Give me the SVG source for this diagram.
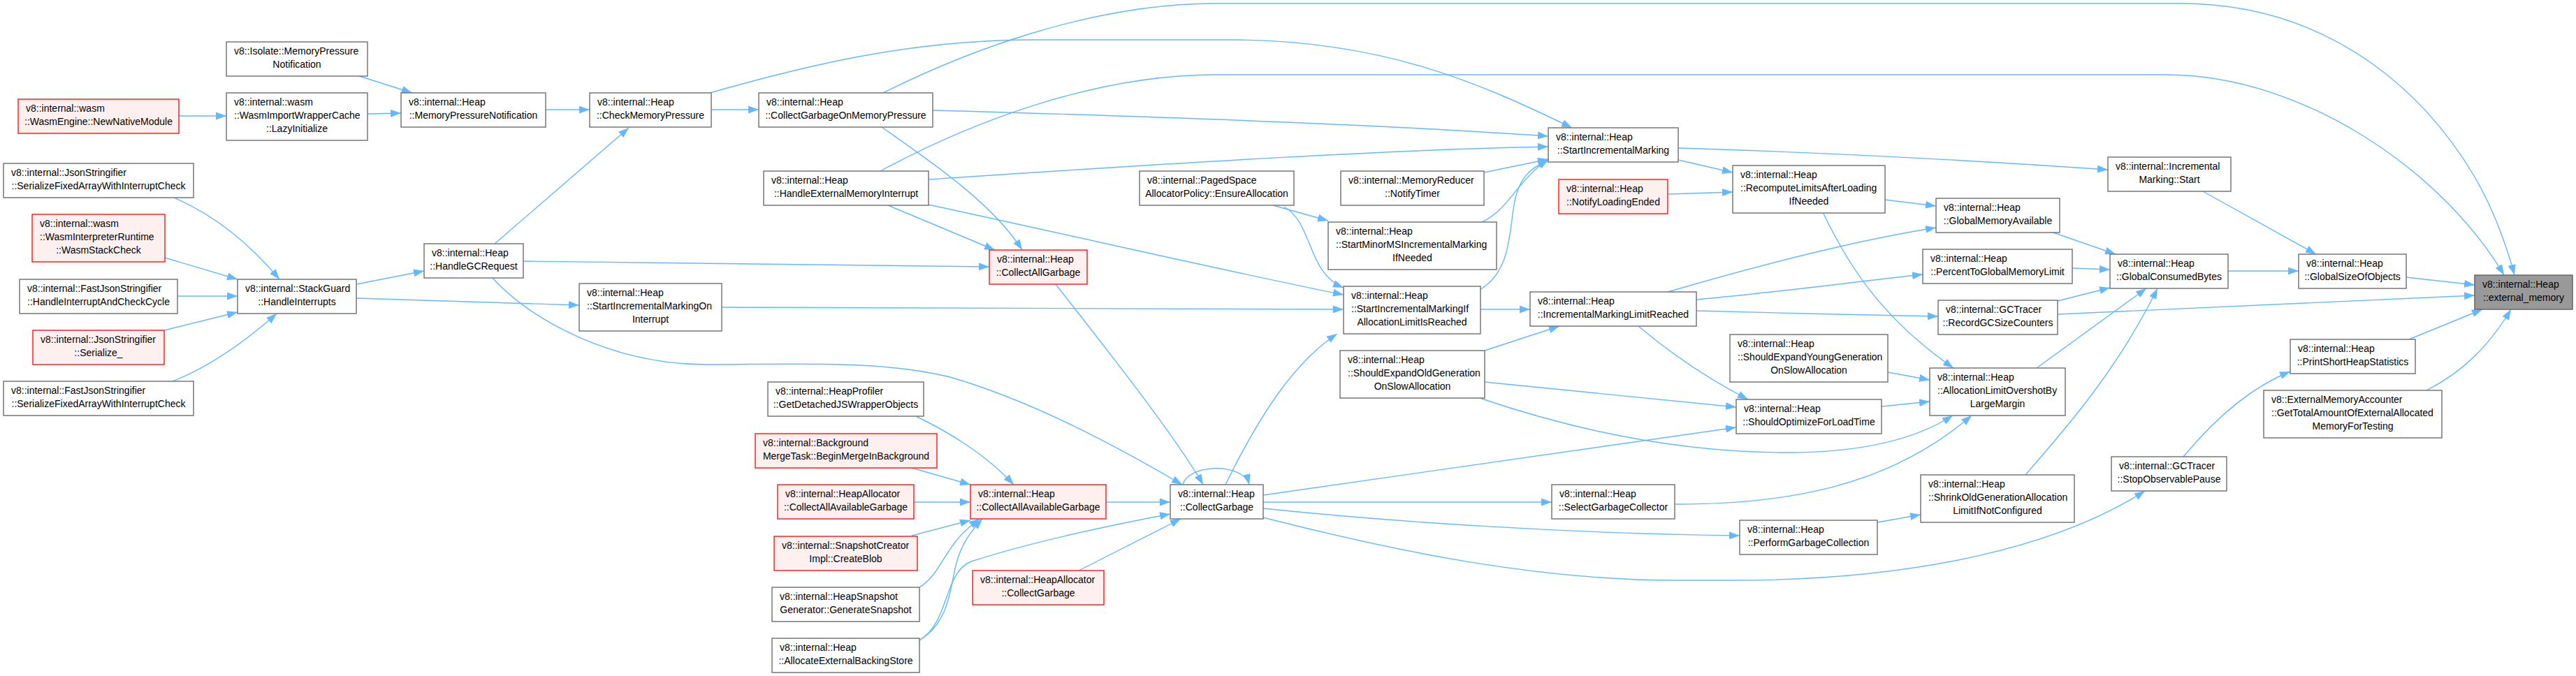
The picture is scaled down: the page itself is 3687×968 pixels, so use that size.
<svg xmlns="http://www.w3.org/2000/svg" width="3687" height="968" viewBox="0 0 3687 968">
<style>
.n rect{fill:#fff;stroke:#777;stroke-width:1.5}
.r rect{fill:#FFF0F0;stroke:#f22;stroke-width:1.5}
.g rect{fill:#999;stroke:#666;stroke-width:1.5}
text{font-family:"Liberation Sans",Arial,sans-serif;font-size:14px;fill:#000}
.m{text-anchor:middle}
#edges path{fill:none;stroke:#63B8FF;stroke-width:1.4;marker-end:url(#a)}
</style>
<defs>
<marker id="a" viewBox="0 0 15 11" markerUnits="userSpaceOnUse" markerWidth="15" markerHeight="11" refX="15" refY="5.5" orient="auto">
<path d="M0,0 L15,5.5 L0,11 z" fill="#63B8FF"/>
</marker>
</defs>
<rect width="3687" height="968" fill="#fff"/>
<g id="edges">
<path d="M511,108 L590,133"/>
<path d="M256,166 L324,166"/>
<path d="M526,163 L574,162"/>
<path d="M781,157 L844,157"/>
<path d="M708,349 L900,183"/>
<path d="M1018,157 L1086,157"/>
<path d="M1016,133 C1150,95 1300,57 1480,57 L1760,57 C1980,57 2120,120 2250,183"/>
<path d="M1264,133 C1380,75 1560,5 1740,5 L3120,5 C3350,5 3480,150 3540,250 C3570,300 3590,360 3599,394"/>
<path d="M1260,245 C1380,180 1560,107 1740,107 L3100,107 C3300,107 3500,250 3584,394"/>
<path d="M1335,158 C1700,168 2000,180 2216,195"/>
<path d="M1262,182 C1330,230 1420,290 1463,358"/>
<path d="M1329,257 C1700,232 2000,214 2216,210"/>
<path d="M1271,294 L1424,358"/>
<path d="M1329,293 C1600,352 1800,398 1923,422"/>
<path d="M749,374 L1416,382"/>
<path d="M1033,440 L1923,443"/>
<path d="M1511,407 C1560,470 1680,620 1722,694"/>
<path d="M1822,294 L1901,316"/>
<path d="M1838,296 C1880,320 1870,390 1923,412"/>
<path d="M510,407 L607,388"/>
<path d="M510,427 L829,437"/>
<path d="M704,397 C760,460 880,522 1010,522 C1130,522 1260,515 1360,540 C1480,575 1600,640 1692,694"/>
<path d="M249,283 C300,305 350,340 400,400"/>
<path d="M236,369 L340,400"/>
<path d="M254,424 L340,424"/>
<path d="M235,473 L340,447"/>
<path d="M247,546 C300,525 350,490 396,449"/>
<path d="M1311,596 C1360,620 1410,650 1451,694"/>
<path d="M1305,670 L1389,694"/>
<path d="M1308,719 L1389,719"/>
<path d="M1305,767 L1389,745"/>
<path d="M1316,841 C1350,820 1350,780 1402,743"/>
<path d="M1316,917 C1360,890 1360,840 1368,810 C1375,780 1390,760 1406,743"/>
<path d="M1316,917 C1360,890 1350,820 1390,804 C1480,775 1590,752 1675,736"/>
<path d="M1583,719 L1675,719"/>
<path d="M1544,817 L1690,743"/>
<path d="M1693,694 C1700,664 1780,662 1788,694"/>
<path d="M1754,694 C1800,600 1850,520 1914,478"/>
<path d="M1808,709 L2485,612"/>
<path d="M1808,719 L2221,719"/>
<path d="M1808,728 C2000,748 2250,764 2490,767"/>
<path d="M1808,741 C2000,790 2200,831 2400,831 L2480,831 C2750,831 2950,780 3070,703"/>
<path d="M2125,502 L2232,467"/>
<path d="M2125,547 L2485,583"/>
<path d="M2118,570 C2250,615 2400,648 2560,648 C2660,648 2740,630 2795,595"/>
<path d="M2397,722 C2550,722 2700,700 2822,595"/>
<path d="M2118,415 C2160,390 2160,340 2166,300 C2172,255 2190,240 2216,230"/>
<path d="M2121,318 C2160,300 2170,260 2216,228"/>
<path d="M2124,247 L2216,228"/>
<path d="M2119,443 L2190,443"/>
<path d="M2402,212 C2600,218 2800,228 3017,243"/>
<path d="M2402,229 L2480,247"/>
<path d="M2387,278 L2480,275"/>
<path d="M2387,418 C2500,385 2650,345 2771,326"/>
<path d="M2428,429 C2550,418 2650,404 2752,393"/>
<path d="M2428,445 C2550,448 2650,451 2774,453"/>
<path d="M2345,467 C2390,505 2440,540 2502,572"/>
<path d="M2698,286 L2771,295"/>
<path d="M2609,304 C2650,390 2700,460 2796,527"/>
<path d="M2936,332 L3028,364"/>
<path d="M2966,384 L3020,386"/>
<path d="M2945,431 L3020,412"/>
<path d="M2945,450 C3200,440 3400,430 3542,423"/>
<path d="M2702,533 L2762,544"/>
<path d="M2693,582 L2762,575"/>
<path d="M2915,527 L3072,413"/>
<path d="M2899,680 C2960,610 3030,530 3088,413"/>
<path d="M2687,748 L2749,737"/>
<path d="M3153,274 L3315,364"/>
<path d="M3189,388 L3290,388"/>
<path d="M3444,397 L3542,408"/>
<path d="M3448,486 L3553,443"/>
<path d="M3473,559 C3520,535 3560,500 3594,443"/>
<path d="M3125,654 C3170,600 3220,555 3278,532"/>
</g>
<g id="node1" class="n"><rect x="324" y="60" width="202" height="49"/><text x="335" y="78">v8::Isolate::MemoryPressure</text><text class="m" x="425" y="97">Notification</text></g>
<g id="node2" class="r"><rect x="26" y="142" width="230" height="49"/><text x="37" y="160">v8::internal::wasm</text><text class="m" x="141" y="179">::WasmEngine::NewNativeModule</text></g>
<g id="node3" class="n"><rect x="324" y="133" width="202" height="68"/><text x="335" y="151">v8::internal::wasm</text><text x="335" y="170">::WasmImportWrapperCache</text><text class="m" x="425" y="189">::LazyInitialize</text></g>
<g id="node4" class="n"><rect x="574" y="133" width="207" height="49"/><text x="585" y="151">v8::internal::Heap</text><text class="m" x="677.5" y="170">::MemoryPressureNotification</text></g>
<g id="node5" class="n"><rect x="844" y="133" width="174" height="49"/><text x="855" y="151">v8::internal::Heap</text><text class="m" x="931" y="170">::CheckMemoryPressure</text></g>
<g id="node6" class="n"><rect x="1086" y="133" width="249" height="49"/><text x="1097" y="151">v8::internal::Heap</text><text class="m" x="1210.5" y="170">::CollectGarbageOnMemoryPressure</text></g>
<g id="node7" class="n"><rect x="1093" y="245" width="236" height="49"/><text x="1104" y="263">v8::internal::Heap</text><text class="m" x="1211" y="282">::HandleExternalMemoryInterrupt</text></g>
<g id="node8" class="n"><rect x="5" y="234" width="272" height="49"/><text x="16" y="252">v8::internal::JsonStringifier</text><text class="m" x="141" y="271">::SerializeFixedArrayWithInterruptCheck</text></g>
<g id="node9" class="r"><rect x="46" y="307" width="190" height="68"/><text x="57" y="325">v8::internal::wasm</text><text x="57" y="344">::WasmInterpreterRuntime</text><text class="m" x="141" y="363">::WasmStackCheck</text></g>
<g id="node10" class="n"><rect x="28" y="400" width="226" height="49"/><text x="39" y="418">v8::internal::FastJsonStringifier</text><text class="m" x="141" y="437">::HandleInterruptAndCheckCycle</text></g>
<g id="node11" class="r"><rect x="47" y="473" width="188" height="49"/><text x="58" y="491">v8::internal::JsonStringifier</text><text class="m" x="141" y="510">::Serialize_</text></g>
<g id="node12" class="n"><rect x="5" y="546" width="272" height="49"/><text x="16" y="564">v8::internal::FastJsonStringifier</text><text class="m" x="141" y="583">::SerializeFixedArrayWithInterruptCheck</text></g>
<g id="node13" class="n"><rect x="340" y="400" width="170" height="49"/><text x="351" y="418">v8::internal::StackGuard</text><text class="m" x="425" y="437">::HandleInterrupts</text></g>
<g id="node14" class="n"><rect x="607" y="349" width="142" height="49"/><text x="618" y="367">v8::internal::Heap</text><text class="m" x="678" y="386">::HandleGCRequest</text></g>
<g id="node15" class="n"><rect x="829" y="406" width="204" height="68"/><text x="840" y="424">v8::internal::Heap</text><text x="840" y="443">::StartIncrementalMarkingOn</text><text class="m" x="931" y="462">Interrupt</text></g>
<g id="node16" class="r"><rect x="1416" y="358" width="140" height="49"/><text x="1427" y="376">v8::internal::Heap</text><text class="m" x="1486" y="395">::CollectAllGarbage</text></g>
<g id="node17" class="n"><rect x="1631" y="245" width="221" height="49"/><text x="1642" y="263">v8::internal::PagedSpace</text><text class="m" x="1741.5" y="282">AllocatorPolicy::EnsureAllocation</text></g>
<g id="node18" class="n"><rect x="1919" y="245" width="205" height="49"/><text x="1930" y="263">v8::internal::MemoryReducer</text><text class="m" x="2021.5" y="282">::NotifyTimer</text></g>
<g id="node19" class="n"><rect x="1901" y="318" width="241" height="68"/><text x="1912" y="336">v8::internal::Heap</text><text x="1912" y="355">::StartMinorMSIncrementalMarking</text><text class="m" x="2021.5" y="374">IfNeeded</text></g>
<g id="node20" class="n"><rect x="1923" y="410" width="196" height="68"/><text x="1934" y="428">v8::internal::Heap</text><text x="1934" y="447">::StartIncrementalMarkingIf</text><text class="m" x="2021" y="466">AllocationLimitIsReached</text></g>
<g id="node21" class="n"><rect x="1918" y="502" width="207" height="68"/><text x="1929" y="520">v8::internal::Heap</text><text x="1929" y="539">::ShouldExpandOldGeneration</text><text class="m" x="2021.5" y="558">OnSlowAllocation</text></g>
<g id="node22" class="n"><rect x="2216" y="183" width="186" height="49"/><text x="2227" y="201">v8::internal::Heap</text><text class="m" x="2309" y="220">::StartIncrementalMarking</text></g>
<g id="node23" class="r"><rect x="2231" y="257" width="156" height="49"/><text x="2242" y="275">v8::internal::Heap</text><text class="m" x="2309" y="294">::NotifyLoadingEnded</text></g>
<g id="node24" class="n"><rect x="2190" y="418" width="238" height="49"/><text x="2201" y="436">v8::internal::Heap</text><text class="m" x="2309" y="455">::IncrementalMarkingLimitReached</text></g>
<g id="node25" class="n"><rect x="2480" y="237" width="218" height="68"/><text x="2491" y="255">v8::internal::Heap</text><text x="2491" y="274">::RecomputeLimitsAfterLoading</text><text class="m" x="2589" y="293">IfNeeded</text></g>
<g id="node26" class="n"><rect x="2771" y="284" width="177" height="49"/><text x="2782" y="302">v8::internal::Heap</text><text class="m" x="2859.5" y="321">::GlobalMemoryAvailable</text></g>
<g id="node27" class="n"><rect x="2752" y="357" width="214" height="49"/><text x="2763" y="375">v8::internal::Heap</text><text class="m" x="2859" y="394">::PercentToGlobalMemoryLimit</text></g>
<g id="node28" class="n"><rect x="2774" y="430" width="171" height="49"/><text x="2785" y="448">v8::internal::GCTracer</text><text class="m" x="2859.5" y="467">::RecordGCSizeCounters</text></g>
<g id="node29" class="n"><rect x="2476" y="479" width="226" height="68"/><text x="2487" y="497">v8::internal::Heap</text><text x="2487" y="516">::ShouldExpandYoungGeneration</text><text class="m" x="2589" y="535">OnSlowAllocation</text></g>
<g id="node30" class="n"><rect x="2485" y="572" width="208" height="49"/><text x="2496" y="590">v8::internal::Heap</text><text class="m" x="2589" y="609">::ShouldOptimizeForLoadTime</text></g>
<g id="node31" class="n"><rect x="2762" y="527" width="194" height="68"/><text x="2773" y="545">v8::internal::Heap</text><text x="2773" y="564">::AllocationLimitOvershotBy</text><text class="m" x="2859" y="583">LargeMargin</text></g>
<g id="node32" class="n"><rect x="2221" y="694" width="176" height="49"/><text x="2232" y="712">v8::internal::Heap</text><text class="m" x="2309" y="731">::SelectGarbageCollector</text></g>
<g id="node33" class="n"><rect x="2490" y="745" width="197" height="49"/><text x="2501" y="763">v8::internal::Heap</text><text class="m" x="2588.5" y="782">::PerformGarbageCollection</text></g>
<g id="node34" class="n"><rect x="2749" y="680" width="220" height="68"/><text x="2760" y="698">v8::internal::Heap</text><text x="2760" y="717">::ShrinkOldGenerationAllocation</text><text class="m" x="2859" y="736">LimitIfNotConfigured</text></g>
<g id="node35" class="n"><rect x="3017" y="225" width="176" height="49"/><text x="3028" y="243">v8::internal::Incremental</text><text class="m" x="3105" y="262">Marking::Start</text></g>
<g id="node36" class="n"><rect x="3020" y="364" width="169" height="49"/><text x="3031" y="382">v8::internal::Heap</text><text class="m" x="3104.5" y="401">::GlobalConsumedBytes</text></g>
<g id="node37" class="n"><rect x="3290" y="364" width="154" height="49"/><text x="3301" y="382">v8::internal::Heap</text><text class="m" x="3367" y="401">::GlobalSizeOfObjects</text></g>
<g id="node38" class="g"><rect x="3542" y="394" width="140" height="49"/><text x="3553" y="412">v8::internal::Heap</text><text class="m" x="3612" y="431">::external_memory</text></g>
<g id="node39" class="n"><rect x="3278" y="486" width="179" height="49"/><text x="3289" y="504">v8::internal::Heap</text><text class="m" x="3367.5" y="523">::PrintShortHeapStatistics</text></g>
<g id="node40" class="n"><rect x="3240" y="559" width="255" height="68"/><text x="3251" y="577">v8::ExternalMemoryAccounter</text><text x="3251" y="596">::GetTotalAmountOfExternalAllocated</text><text class="m" x="3367.5" y="615">MemoryForTesting</text></g>
<g id="node41" class="n"><rect x="3022" y="654" width="165" height="49"/><text x="3033" y="672">v8::internal::GCTracer</text><text class="m" x="3104.5" y="691">::StopObservablePause</text></g>
<g id="node42" class="n"><rect x="1099" y="547" width="223" height="49"/><text x="1110" y="565">v8::internal::HeapProfiler</text><text class="m" x="1210.5" y="584">::GetDetachedJSWrapperObjects</text></g>
<g id="node43" class="r"><rect x="1081" y="621" width="260" height="49"/><text x="1092" y="639">v8::internal::Background</text><text class="m" x="1211" y="658">MergeTask::BeginMergeInBackground</text></g>
<g id="node44" class="r"><rect x="1113" y="694" width="195" height="49"/><text x="1124" y="712">v8::internal::HeapAllocator</text><text class="m" x="1210.5" y="731">::CollectAllAvailableGarbage</text></g>
<g id="node45" class="r"><rect x="1108" y="768" width="205" height="49"/><text x="1119" y="786">v8::internal::SnapshotCreator</text><text class="m" x="1210.5" y="805">Impl::CreateBlob</text></g>
<g id="node46" class="n"><rect x="1105" y="841" width="211" height="49"/><text x="1116" y="859">v8::internal::HeapSnapshot</text><text class="m" x="1210.5" y="878">Generator::GenerateSnapshot</text></g>
<g id="node47" class="n"><rect x="1105" y="914" width="211" height="49"/><text x="1116" y="932">v8::internal::Heap</text><text class="m" x="1210.5" y="951">::AllocateExternalBackingStore</text></g>
<g id="node48" class="r"><rect x="1389" y="694" width="194" height="49"/><text x="1400" y="712">v8::internal::Heap</text><text class="m" x="1486" y="731">::CollectAllAvailableGarbage</text></g>
<g id="node49" class="r"><rect x="1392" y="817" width="188" height="49"/><text x="1403" y="835">v8::internal::HeapAllocator</text><text class="m" x="1486" y="854">::CollectGarbage</text></g>
<g id="node50" class="n"><rect x="1675" y="694" width="133" height="49"/><text x="1686" y="712">v8::internal::Heap</text><text class="m" x="1741.5" y="731">::CollectGarbage</text></g>
</svg>
